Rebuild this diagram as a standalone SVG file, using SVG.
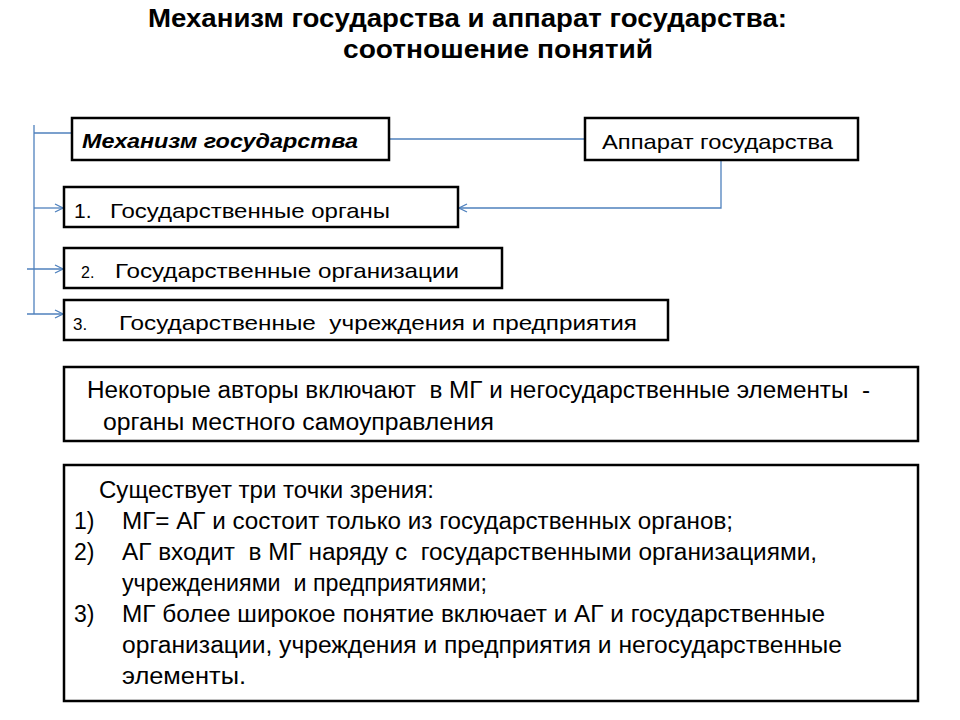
<svg xmlns="http://www.w3.org/2000/svg" width="960" height="720" viewBox="0 0 960 720">
<style>
.box{fill:#fff;stroke:#000;stroke-width:2.5}
.t{font-family:"Liberation Sans",Arial,sans-serif;fill:#000;white-space:pre}
.title{font-size:25px;font-weight:bold}
.n{font-size:21px}
.s{font-size:23px}
.c{fill:none;stroke:#4F81BD;stroke-width:1.3}
</style>
<defs>
<marker id="ar" markerWidth="10" markerHeight="10" refX="9" refY="5" orient="auto" markerUnits="userSpaceOnUse">
<path d="M1,1 L9,5 L1,9" fill="none" stroke="#4F81BD" stroke-width="1.3"/>
</marker>
</defs>
<rect width="960" height="720" fill="#fff"/>
<g id="title">
<text class="t title" x="148" y="27" textLength="639" lengthAdjust="spacingAndGlyphs">Механизм государства и аппарат государства:</text>
<text class="t title" x="343" y="58" textLength="310" lengthAdjust="spacingAndGlyphs">соотношение понятий</text>
</g>
<g id="connectors">
<path class="c" d="M34,125 V314"/>
<path class="c" d="M34,133 H72"/>
<path class="c" d="M34,208 H63" marker-end="url(#ar)"/>
<path class="c" d="M27,269 H63" marker-end="url(#ar)"/>
<path class="c" d="M27,314 H63" marker-end="url(#ar)"/>
<path class="c" d="M389,139 H585"/>
<path class="c" d="M721,160 V208 H459" marker-end="url(#ar)"/>
</g>
<g id="mg">
<rect class="box" x="72" y="118" width="317" height="42"/>
<text class="t n" x="82" y="148" font-weight="bold" font-style="italic" textLength="276" lengthAdjust="spacingAndGlyphs">Механизм государства</text>
</g>
<g id="ag">
<rect class="box" x="585" y="118" width="273" height="42"/>
<text class="t n" x="602" y="149" textLength="231" lengthAdjust="spacingAndGlyphs">Аппарат государства</text>
</g>
<g id="item1">
<rect class="box" x="64" y="187" width="394" height="40"/>
<text class="t n" x="74" y="218">1.</text>
<text class="t n" x="110" y="218" textLength="280" lengthAdjust="spacingAndGlyphs">Государственные органы</text>
</g>
<g id="item2">
<rect class="box" x="64" y="248" width="438" height="40"/>
<text class="t" x="81" y="278" font-size="16">2.</text>
<text class="t n" x="115" y="278" textLength="344" lengthAdjust="spacingAndGlyphs">Государственные организации</text>
</g>
<g id="item3">
<rect class="box" x="64" y="300" width="604" height="40"/>
<text class="t" x="73" y="330" font-size="17">3.</text>
<text class="t n" x="119" y="330" textLength="518" lengthAdjust="spacingAndGlyphs">Государственные  учреждения и предприятия</text>
</g>
<g id="note">
<rect class="box" x="64" y="367" width="854" height="74"/>
<text class="t s" x="87" y="398" textLength="783" lengthAdjust="spacingAndGlyphs">Некоторые авторы включают  в МГ и негосударственные элементы  -</text>
<text class="t s" x="103" y="430" textLength="391" lengthAdjust="spacingAndGlyphs">органы местного самоуправления</text>
</g>
<g id="views">
<rect class="box" x="64" y="465" width="854" height="236"/>
<text class="t s" x="99" y="498" textLength="335" lengthAdjust="spacingAndGlyphs">Существует три точки зрения:</text>
<text class="t s" x="74" y="529">1)</text>
<text class="t s" x="122" y="529" textLength="611" lengthAdjust="spacingAndGlyphs">МГ= АГ и состоит только из государственных органов;</text>
<text class="t s" x="74" y="560">2)</text>
<text class="t s" x="122" y="560" textLength="695" lengthAdjust="spacingAndGlyphs">АГ входит  в МГ наряду с  государственными организациями,</text>
<text class="t s" x="122" y="591" textLength="365" lengthAdjust="spacingAndGlyphs">учреждениями  и предприятиями;</text>
<text class="t s" x="74" y="622">3)</text>
<text class="t s" x="122" y="622" textLength="703" lengthAdjust="spacingAndGlyphs">МГ более широкое понятие включает и АГ и государственные</text>
<text class="t s" x="122" y="653" textLength="720" lengthAdjust="spacingAndGlyphs">организации, учреждения и предприятия и негосударственные</text>
<text class="t s" x="122" y="684" textLength="124" lengthAdjust="spacingAndGlyphs">элементы.</text>
</g>
</svg>
